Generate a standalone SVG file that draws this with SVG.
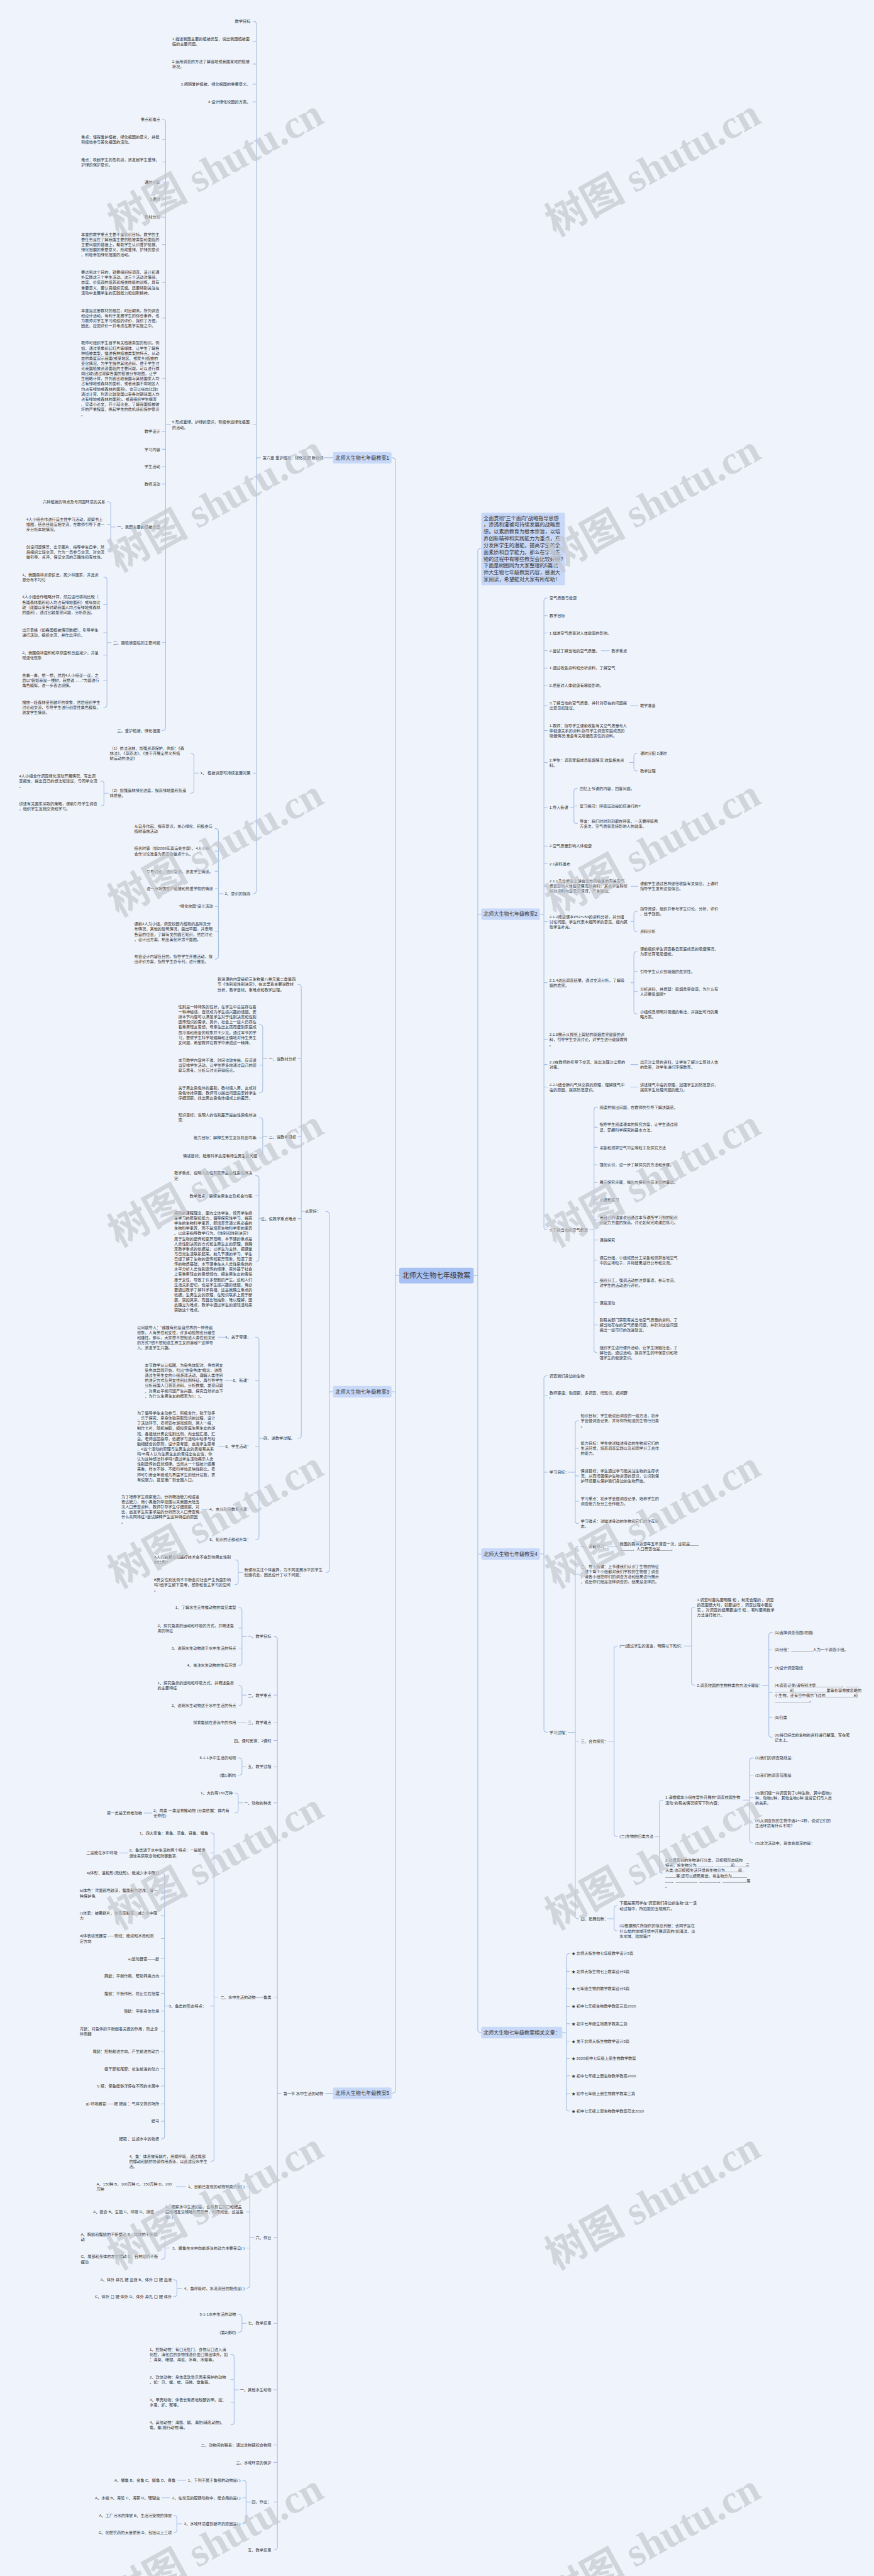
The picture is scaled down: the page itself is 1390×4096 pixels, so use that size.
<svg xmlns="http://www.w3.org/2000/svg" width="1390" height="4096" viewBox="0 0 1390 4096">
<style>
.t{font-family:"Liberation Sans","Noto Sans CJK SC",sans-serif;font-size:11.5px;fill:#333}
.e{text-anchor:end}
.m{text-anchor:middle}
.b{font-size:15px}
.c{font-size:20px}
.ln{fill:none;stroke:#a5bde8;stroke-width:2;stroke-linecap:round}
.bx{fill:#c8d8f8}
.wm{font-family:"Liberation Serif","Noto Sans CJK SC",serif;font-size:118px;font-weight:bold;fill:#c4c8cf;opacity:.7}
</style>
<rect width="1390" height="4096" fill="#eff4fc"/>
<g transform="scale(0.542)">
<g id="connectors" class="ln">
<path d="M1390 3742H1402M1412 1609Q1402 1609 1402 1617V5955Q1402 5963 1412 5963M1402 2682h10M1402 4559h10"/>
<path d="M1584 2682H1596M1606 1754Q1596 1754 1596 1762V3600Q1596 3608 1606 3608M1596 1806h10M1596 1857h10M1596 1909h10M1596 1960h10M1596 2011h10M1596 2070h10M1596 2143h10M1596 2237h10M1596 2369h10M1596 2482h10M1596 2534h10M1596 2600h10M1596 2704h10M1596 2883h10M1596 3049h10M1596 3123h10M1596 3189h10"/>
<path d="M1764 1909H1788M1850 2070H1872M1851 2600H1872M1851 3123H1872M1851 3189H1872"/>
<path d="M1846 2237H1860M1870 2210Q1860 2210 1860 2218V2254Q1860 2262 1870 2262"/>
<path d="M1673 2369H1684M1694 2313Q1684 2313 1684 2321V2408Q1684 2416 1694 2416M1684 2365h10"/>
<path d="M1851 2704H1860M1870 2673Q1860 2673 1860 2681V2725Q1860 2733 1870 2733"/>
<path d="M1851 2883H1860M1870 2792Q1860 2792 1860 2800V2967Q1860 2975 1870 2975M1860 2850h10M1860 2909h10"/>
<path d="M1730 3608H1743M1753 3248Q1743 3248 1743 3256V3961Q1743 3969 1753 3969M1743 3307h10M1743 3366h10M1743 3417h10M1743 3469h10M1743 3520h10M1743 3579h10M1743 3638h10M1743 3697h10M1743 3763h10M1743 3822h10M1743 3887h10"/>
<path d="M1584 4559H1596M1606 4036Q1596 4036 1596 4044V5074Q1596 5082 1606 5082M1596 4094h10M1596 4319h10"/>
<path d="M1667 4319H1688M1698 4168Q1688 4168 1688 4176V4462Q1688 4470 1698 4470M1688 4249h10M1688 4330h10M1688 4404h10"/>
<path d="M1667 5082H1688M1698 4537Q1688 4537 1688 4545V5621Q1688 5629 1698 5629M1688 4618h10M1688 5108h10"/>
<path d="M1782 4537H1812"/>
<path d="M1782 5108H1802M1812 4829Q1802 4829 1802 4837V5380Q1802 5388 1812 5388"/>
<path d="M2008 4829H2029M2039 4715Q2029 4715 2029 4723V4936Q2029 4944 2039 4944"/>
<path d="M2236 4944H2256M2266 4789Q2256 4789 2256 4797V5089Q2256 5097 2266 5097M2256 4840h10M2256 4892h10M2256 4966h10M2256 5039h10"/>
<path d="M1922 5388H1935M1945 5281Q1935 5281 1935 5289V5487Q1935 5495 1945 5495"/>
<path d="M2180 5281H2200M2210 5157Q2200 5157 2200 5165V5399Q2200 5407 2210 5407M2200 5208h10M2200 5274h10M2200 5348h10"/>
<path d="M1782 5629H1802M1812 5591Q1802 5591 1802 5599V5657Q1802 5665 1812 5665"/>
<path d="M1650 5963H1662M1672 5731Q1662 5731 1662 5739V6185Q1662 6193 1672 6193M1662 5783h10M1662 5834h10M1662 5886h10M1662 5937h10M1662 5988h10M1662 6039h10M1662 6090h10M1662 6142h10"/>
<path d="M1171 3742H1160M1150 1343Q1160 1343 1160 1351V6133Q1160 6141 1150 6141M1160 4083h-10"/>
<path d="M977 1343H955M977 6141H955"/>
<path d="M764 1343H752M742 62Q752 62 752 70V2614Q752 2622 742 2622M752 122h-10M752 188h-10M752 247h-10M752 299h-10M752 1246h-10M752 2268h-10"/>
<path d="M501 1246H486M476 350Q486 350 486 358V2135Q486 2143 476 2143M486 409h-10M486 475h-10M486 534h-10M486 585h-10M486 637h-10M486 717h-10M486 829h-10M486 933h-10M486 1111h-10M486 1266h-10M486 1318h-10M486 1369h-10M486 1420h-10M486 1546h-10M486 1885h-10"/>
<path d="M338 1546H325M315 1472Q325 1472 325 1480V1611Q325 1619 315 1619M325 1538h-10"/>
<path d="M327 1885H314M304 1693Q314 1693 314 1701V2068Q314 2076 304 2076M314 1774h-10M314 1856h-10M314 1922h-10M314 1996h-10"/>
<path d="M582 2268H569M559 2210Q569 2210 569 2218V2319Q569 2327 559 2327"/>
<path d="M318 2327H305M295 2291Q305 2291 305 2299V2357Q305 2365 295 2365"/>
<path d="M655 2622H641M631 2431Q641 2431 641 2439V2806Q641 2814 631 2814M641 2497h-10M641 2556h-10M641 2607h-10M641 2659h-10M641 2733h-10"/>
<path d="M977 4083H966M956 3554Q966 3554 966 3562V4605Q966 4613 956 4613"/>
<path d="M899 3554H884M874 2888Q884 2888 884 2896V4212Q884 4220 874 4220M884 3106h-10M884 3335h-10M884 3575h-10"/>
<path d="M784 3106H771M761 3006Q771 3006 771 3014V3198Q771 3206 761 3206M771 3125h-10"/>
<path d="M784 3335H771M761 3279Q771 3279 771 3287V3382Q771 3390 761 3390M771 3338h-10"/>
<path d="M773 3575H760M750 3449Q760 3449 760 3457V3693Q760 3701 750 3701M760 3508h-10"/>
<path d="M773 4220H760M750 3923Q760 3923 760 3931V4509Q760 4517 750 4517M760 4050h-10M760 4243h-10M760 4428h-10"/>
<path d="M664 3923H640M686 4050H661M664 4243H640M617 4428H592"/>
<path d="M713 4613H699M689 4576Q699 4576 699 4584V4641Q699 4649 689 4649"/>
<path d="M825 6141H814M804 4801Q814 4801 814 4809V7473Q814 7481 804 7481M814 4973h-10M814 5054h-10M814 5106h-10M814 5183h-10M814 5289h-10M814 5859h-10M814 6564h-10M814 6816h-10M814 7011h-10M814 7173h-10M814 7224h-10M814 7340h-10"/>
<path d="M723 4801H710M700 4716Q710 4716 710 4724V4878Q710 4886 700 4886M710 4776h-10M710 4835h-10"/>
<path d="M723 4973H710M700 4945Q710 4945 710 4953V4996Q710 5004 700 5004"/>
<path d="M723 5054H699"/>
<path d="M723 5183H710M700 5157Q710 5157 710 5165V5200Q710 5208 700 5208"/>
<path d="M712 5289H699M689 5260Q699 5260 699 5268V5311Q699 5319 689 5319"/>
<path d="M446 5319H423M375 5436H351"/>
<path d="M640 5859H628M618 5377Q628 5377 628 5385V6333Q628 6341 618 6341M628 5436h-10M628 5885h-10"/>
<path d="M496 5885H483M473 5495Q483 5495 483 5503V6267Q483 6275 473 6275M483 5554h-10M483 5620h-10M483 5687h-10M483 5746h-10M483 5797h-10M483 5848h-10M483 5900h-10M483 5959h-10M483 6018h-10M483 6069h-10M483 6120h-10M483 6172h-10M483 6223h-10"/>
<path d="M746 6564H733M723 6415Q733 6415 733 6423V6705Q733 6713 723 6713M733 6489h-10M733 6595h-10"/>
<path d="M545 6415H518M481 6489H458"/>
<path d="M497 6595H484M474 6562Q484 6562 484 6570V6620Q484 6628 474 6628"/>
<path d="M533 6713H519M509 6688Q519 6688 519 6696V6730Q519 6738 509 6738"/>
<path d="M723 6816H710M700 6790Q710 6790 710 6798V6834Q710 6842 700 6842"/>
<path d="M700 7011H687M677 6907Q687 6907 687 6915V7106Q687 7114 677 7114M687 6981h-10M687 7048h-10"/>
<path d="M735 7340H722M712 7276Q722 7276 722 7284V7396Q722 7404 712 7404M722 7328h-10"/>
<path d="M545 7276H521M498 7328H475"/>
<path d="M534 7404H519M509 7379Q519 7379 519 7387V7422Q519 7430 509 7430"/>
</g>

<g id="center"><rect x="1171" y="3719" width="219" height="46" rx="6" fill="#a7c1f4"/><text class="t c m" x="1280.5" y="3749">北师大生物七年级教案</text></g>
<g id="desc"><rect class="bx" x="1412" y="1504" width="246" height="213" rx="5"/><text class="t b" x="1419" y="1525">全面贯彻"三个面向"战略指导思想<tspan x="1419" dy="20">，渗透和灌输可持续发展的战略思</tspan><tspan x="1419" dy="20">想。以素质教育为根本宗旨，以培</tspan><tspan x="1419" dy="20">养创新精神和实践能力为重点，充</tspan><tspan x="1419" dy="20">分发挥学生的潜能，提高学生的全</tspan><tspan x="1419" dy="20">面素质和自学能力。那么在学习生</tspan><tspan x="1419" dy="20">物的过程中有哪些教案会比较好呢?</tspan><tspan x="1419" dy="20">下面是树图网为大家整理的5篇北</tspan><tspan x="1419" dy="20">师大生物七年级教案内容，感谢大</tspan><tspan x="1419" dy="20">家阅读，希望能对大家有所帮助！</tspan></text></g>

<g id="b1"><rect class="bx" x="977" y="1326" width="172" height="34" rx="5"/><text class="t b m" x="1063" y="1348">北师大生物七年级教案1</text></g>
<g id="b3"><rect class="bx" x="977" y="4066" width="172" height="34" rx="5"/><text class="t b m" x="1063" y="4088">北师大生物七年级教案3</text></g>
<g id="b5"><rect class="bx" x="977" y="6124" width="172" height="34" rx="5"/><text class="t b m" x="1063" y="6146">北师大生物七年级教案5</text></g>
<g id="b2"><rect class="bx" x="1412" y="2665" width="172" height="34" rx="5"/><text class="t b m" x="1498" y="2687">北师大生物七年级教案2</text></g>
<g id="b4"><rect class="bx" x="1412" y="4542" width="172" height="34" rx="5"/><text class="t b m" x="1498" y="4564">北师大生物七年级教案4</text></g>
<g id="b6"><rect class="bx" x="1412" y="5946" width="238" height="34" rx="5"/><text class="t b m" x="1531" y="5968">北师大生物七年级教案相关文章：</text></g>

<g id="n1"><text class="t e" x="949" y="1347">第六章 爱护植被，绿化祖国 新授课</text></g>
<g id="n2"><text class="t e" x="735" y="66">教学目标</text></g>
<g id="n3"><text class="t" x="505" y="118.5">1.描述我国主要的植被类型，说出我国植被面<tspan x="505" dy="15">临的主要问题。</tspan></text></g>
<g id="n4"><text class="t" x="505" y="184.5">2.运用调查的方法了解当地或我国某地的植被<tspan x="505" dy="15">状况。</tspan></text></g>
<g id="n5"><text class="t e" x="735" y="251">3.阐明爱护植被、绿化祖国的重要意义。</text></g>
<g id="n6"><text class="t e" x="735" y="303">4.设计绿化校园的方案。</text></g>
<g id="n7"><text class="t" x="505" y="1242.5">5.形成爱绿、护绿的意识，积极参加绿化祖国<tspan x="505" dy="15">的活动。</tspan></text></g>
<g id="n8"><text class="t e" x="735" y="2272">1、 植被资源可持续发展对策</text></g>
<g id="n9"><text class="t e" x="735" y="2626">2、意识的提高</text></g>
<g id="n10"><text class="t e" x="470" y="354">重点和难点</text></g>
<g id="n11"><text class="t" x="238" y="405.5">重点：懂得爱护植被，绿化祖国的意义，并能<tspan x="238" dy="15">积极地参与美化祖国的活动。</tspan></text></g>
<g id="n12"><text class="t" x="238" y="471.5">难点：唤起学生的危机感，激发起学生爱绿、<tspan x="238" dy="15">护绿的保护意识。</tspan></text></g>
<g id="n13"><text class="t e" x="470" y="538">课时分配</text></g>
<g id="n14"><text class="t e" x="470" y="589">2课时</text></g>
<g id="n15"><text class="t e" x="470" y="641">教材分析</text></g>
<g id="n16"><text class="t" x="238" y="691">本章的教学重点主要不是知识目标。教学的主<tspan x="238" dy="15">要任务是在了解我国主要的植被类型和面临的</tspan><tspan x="238" dy="15">主要问题的基础上，帮助学生认识爱护植被、</tspan><tspan x="238" dy="15">绿化祖国的重要意义，形成爱绿、护绿的意识</tspan><tspan x="238" dy="15">，积极参加绿化祖国的活动。</tspan></text></g>
<g id="n17"><text class="t" x="238" y="803">要达到这个目的，就要组织好调查、设计和课<tspan x="238" dy="15">外实践这三个学生活动。这三个活动对情感、</tspan><tspan x="238" dy="15">态度、价值观的培养和相关技能的训练，具有</tspan><tspan x="238" dy="15">重要意义，要认真组织实施。还要特别关注在</tspan><tspan x="238" dy="15">活动中发展学生的实践能力和创新精神。</tspan></text></g>
<g id="n18"><text class="t" x="238" y="914.5">本章是这册教材的最后，时近期末。所列调查<tspan x="238" dy="15">和设计活动，有利于发展学生的综合素养，也</tspan><tspan x="238" dy="15">为教师对学生学习成绩的评价，提供了方便。</tspan><tspan x="238" dy="15">因此，应把评价一并考虑在教学实施之中。</tspan></text></g>
<g id="n19"><text class="t" x="238" y="1010">教师可组织学生自学有关植被类型的知识。例<tspan x="238" dy="15">如，通过录像和幻灯片等媒体，让学生了解各</tspan><tspan x="238" dy="15">种植被类型，描述各种植被类型的特点。从动</tspan><tspan x="238" dy="15">态的角度演示我国(或某地区、或家乡)植被的</tspan><tspan x="238" dy="15">变化情况，为学生提供其他资料，便于学生讨</tspan><tspan x="238" dy="15">论我国植被资源面临的主要问题。可以进行横</tspan><tspan x="238" dy="15">向比较(通过观察各国的植被分布地图，让学</tspan><tspan x="238" dy="15">生粗略计算，并列表比较我国与其他国家人均</tspan><tspan x="238" dy="15">占有绿地或森林的面积，或者我国不同地区人</tspan><tspan x="238" dy="15">均占有绿地或森林的面积)，也可以纵向比较(</tspan><tspan x="238" dy="15">通过计算、列表比较建国以来各时期我国人均</tspan><tspan x="238" dy="15">占有绿地或森林的面积)。或者组织学生撰写</tspan><tspan x="238" dy="15">、宣读小论文，开小辩论会，了解我国植被破</tspan><tspan x="238" dy="15">坏的严重程度，唤起学生的危机感和保护意识</tspan><tspan x="238" dy="15">。</tspan></text></g>
<g id="n20"><text class="t e" x="470" y="1270">教学设计</text></g>
<g id="n21"><text class="t e" x="470" y="1322">学习内容</text></g>
<g id="n22"><text class="t e" x="470" y="1373">学生活动</text></g>
<g id="n23"><text class="t e" x="470" y="1424">教师活动</text></g>
<g id="n24"><text class="t e" x="470" y="1550">一、我国主要的植被类型</text></g>
<g id="n25"><text class="t e" x="470" y="1889">二、国植被面临的主要问题</text></g>
<g id="n26"><text class="t e" x="470" y="2147">三、爱护植被，绿化祖国</text></g>
<g id="n27"><text class="t e" x="309" y="1476">六种植被的特点及与周围环境的关系</text></g>
<g id="n28"><text class="t" x="77" y="1527">4人小组合作进行自主性学习活动，观察书上<tspan x="77" dy="15">插图，结合经验互相交流，在教师引导下进一</tspan><tspan x="77" dy="15">步分析本地情况。</tspan></text></g>
<g id="n29"><text class="t" x="77" y="1608">创设问题情景，出示图片，指导学生自学，然<tspan x="77" dy="15">后组织全班交流，作为一员参与交流，对交流</tspan><tspan x="77" dy="15">做引导、点评，保证交流的正确性和有效性。</tspan></text></g>
<g id="n30"><text class="t" x="65" y="1689.5">1、我国森林资源贫乏，属少林国家，并且资<tspan x="65" dy="15">源分布不均匀</tspan></text></g>
<g id="n31"><text class="t" x="65" y="1755.5">4人小组合作粗略计算，然后进行横向比较（<tspan x="65" dy="15">各国森林面积和人均占有绿地面积）或纵向比</tspan><tspan x="65" dy="15">较（建国以来各时期我国人均占有绿地或森林</tspan><tspan x="65" dy="15">的面积），通过比较发现问题，分析原因。</tspan></text></g>
<g id="n32"><text class="t" x="65" y="1852.5">出示表格（如各国植被情况数据），引导学生<tspan x="65" dy="15">进行活动，组织交流，并作出评价。</tspan></text></g>
<g id="n33"><text class="t" x="65" y="1918.5">2、我国森林面积和草原面积日益减少，并呈<tspan x="65" dy="15">现退化现象</tspan></text></g>
<g id="n34"><text class="t" x="65" y="1985">先看一看，想一想，然后4人小组议一议，之<tspan x="65" dy="15">后以"假如我是一棵树，我想说……"为题进行</tspan><tspan x="65" dy="15">角色模拟，进一步表达感情。</tspan></text></g>
<g id="n35"><text class="t" x="65" y="2065">播放一段森林受到破坏的录象，然后组织学生<tspan x="65" dy="15">讨论和交流，引导学生进行创意性角色模拟，</tspan><tspan x="65" dy="15">激发学生情感。</tspan></text></g>
<g id="n36"><text class="t" x="322" y="2199">（1）依法治林，加强资源保护，例如：《森<tspan x="322" dy="15">林法》、《草原法》、《关于开展全民义务植</tspan><tspan x="322" dy="15">树运动的决议》</tspan></text></g>
<g id="n37"><text class="t" x="322" y="2323.5">（2）加强造林绿化进度，提高绿地面积及造<tspan x="322" dy="15">林质量。</tspan></text></g>
<g id="n38"><text class="t" x="56" y="2280">4人小组合作调查绿化活动开展情况，写出调<tspan x="56" dy="15">查报告，提出自己的想法和建议，与同学交流</tspan><tspan x="56" dy="15">。</tspan></text></g>
<g id="n39"><text class="t" x="56" y="2361.5">讲述有关国家采取的策略，课前引导学生调查<tspan x="56" dy="15">，组织学生互相交流和学习。</tspan></text></g>
<g id="n40"><text class="t" x="394" y="2427.5">从自身作起，提高意识，关心绿化，积极参与<tspan x="394" dy="15">植树造林活动</tspan></text></g>
<g id="n41"><text class="t" x="394" y="2493.5">结合时事（如2008年奥运会主题），4人小组<tspan x="394" dy="15">合作讨论准备为奥运会做点什么。</tspan></text></g>
<g id="n42"><text class="t e" x="625" y="2560">引导讨论，组织交流，激发学生情感。</text></g>
<g id="n43"><text class="t e" x="625" y="2611">进一步增强爱护植被和热爱学校的情感</text></g>
<g id="n44"><text class="t e" x="625" y="2663">"绿化校园"设计活动</text></g>
<g id="n45"><text class="t" x="394" y="2714.5">课前4人为小组，调查校园内植物的品种及分<tspan x="394" dy="15">布情况，其他的建筑情况，画出草图，并表明</tspan><tspan x="394" dy="15">各自的位置，了解有关的园艺知识，然后讨论</tspan><tspan x="394" dy="15">，设计出方案，制出美化环境平面图。</tspan></text></g>
<g id="n46"><text class="t" x="394" y="2810.5">布置设计内容及目的。指导学生开展活动，提<tspan x="394" dy="15">出评价方案，指导学生办专刊，进行展览。</tspan></text></g>

<g id="n47"><text class="t e" x="941" y="3558">大家好：</text></g>
<g id="n48"><text class="t" x="717" y="4609.5">新课标关注个体差异，为不同发展水平的学生<tspan x="717" dy="15">创造机会，因此设计了以下问题：</tspan></text></g>
<g id="n49"><text class="t" x="638" y="2877">我说课的内容是初三生物第八单元第二章第四<tspan x="638" dy="15">节《性别和性别决定》，在这里我主要说教材</tspan><tspan x="638" dy="15">分析、教学目标、重难点和教学过程。</tspan></text></g>
<g id="n50"><text class="t e" x="869" y="3110">一、说教材分析</text></g>
<g id="n51"><text class="t e" x="869" y="3339">二、说教学目标</text></g>
<g id="n52"><text class="t e" x="869" y="3579">三、说教学重点难点</text></g>
<g id="n53"><text class="t e" x="865" y="4224">四、说教学过程。</text></g>
<g id="n54"><text class="t" x="523" y="2957.5">性别是一种特殊的性状，在学生中总是存在着<tspan x="523" dy="15">一种神秘感，自然成为学生感兴趣的话题。安</tspan><tspan x="523" dy="15">排本节内容可以满足学生对于性别决定和性别</tspan><tspan x="523" dy="15">遗传知识的需求。另外，社会上一些人仍存在</tspan><tspan x="523" dy="15">着重男轻女思想，母亲生出女孩而遭到家庭成</tspan><tspan x="523" dy="15">员冷落和责备的现象并不少见。通过本节的学</tspan><tspan x="523" dy="15">习，要使学生科学地理解和正确地对待生男生</tspan><tspan x="523" dy="15">女问题，希望教师在教学中渗透这一精神。</tspan></text></g>
<g id="n55"><text class="t" x="523" y="3114">本节教学内容并不难，时间也较充裕，应该适<tspan x="523" dy="15">当安排学生活动，让学生更多地通过自己的观</tspan><tspan x="523" dy="15">察与思考，分析与讨论获得结论。</tspan></text></g>
<g id="n56"><text class="t" x="523" y="3195">关于男女染色体的差别，教材编入男、女成对<tspan x="523" dy="15">染色体排序图。教师可以提出问题后安排学生</tspan><tspan x="523" dy="15">仔细观察，找出男女染色体组成上的差异。</tspan></text></g>
<g id="n57"><text class="t" x="523" y="3275.5">知识目标：说明人的性别差异是由性染色体决<tspan x="523" dy="15">定;</tspan></text></g>
<g id="n58"><text class="t e" x="755" y="3342">能力目标：解释生男生女及机会均等;</text></g>
<g id="n59"><text class="t e" x="755" y="3394">情感目标：能用科学态度看待生男生女问题</text></g>
<g id="n60"><text class="t" x="511" y="3445.5">教学重点：说明人的性别差异是由性染色体决<tspan x="511" dy="15">定;</tspan></text></g>
<g id="n61"><text class="t e" x="743" y="3512">教学难点：解释生男生女及机会均等;</text></g>
<g id="n62"><text class="t" x="511" y="3562.5">用新的课程理念，面向全体学生，培养学生终<tspan x="511" dy="15">生学习的愿望和能力，倡导探究性学习，提高</tspan><tspan x="511" dy="15">学生的生物科学素养，即培养普通公民必备的</tspan><tspan x="511" dy="15">生物科学素养，而不是培养生物科学家的素养</tspan><tspan x="511" dy="15">。以此来指导教学行为。《性别和性别决定》</tspan><tspan x="511" dy="15">属于生物的遗传和变异范畴，本节课的重点是</tspan><tspan x="511" dy="15">人类性别决定的方式和生男生女的原理。我确</tspan><tspan x="511" dy="15">定教学重点的依据是：以学生为主体，把课堂</tspan><tspan x="511" dy="15">与日常生活联系起来。前几节课的学习，学生</tspan><tspan x="511" dy="15">已经了解了生物的遗传和变异现象，知道了遗</tspan><tspan x="511" dy="15">传的物质基础，本节课重在从人类性染色体的</tspan><tspan x="511" dy="15">水平分析人类性别遗传的规律，另外基于社会</tspan><tspan x="511" dy="15">上有重男轻女的思想倾向，把生男生女的责任</tspan><tspan x="511" dy="15">推于女性，导致了许多悲剧的产生。这和人们</tspan><tspan x="511" dy="15">生活关系密切，也是学生感兴趣的话题，有必</tspan><tspan x="511" dy="15">要通过教学了解科学真相，这是我确立重点的</tspan><tspan x="511" dy="15">依据。生男生女的原理，在知识联系上属于断</tspan><tspan x="511" dy="15">层，突如其来，而且比较抽象，难以理解，因</tspan><tspan x="511" dy="15">此确立为难点，教学中通过学生的游戏活动来</tspan><tspan x="511" dy="15">突破这个难点。</tspan></text></g>
<g id="n63"><text class="t e" x="736" y="3927">1、关于导课：</text></g>
<g id="n64"><text class="t" x="402" y="3898">以问题导入："雌雄有别是自然界的一种普遍<tspan x="402" dy="15">现象，人有男性和女性，许多动植物也分雌性</tspan><tspan x="402" dy="15">和雄性。那么，大家想不想知道人类性别决定</tspan><tspan x="402" dy="15">的方式?想不想知道生男生女的奥秘?"这样导</tspan><tspan x="402" dy="15">入，激发学生兴趣。</tspan></text></g>
<g id="n65"><text class="t e" x="736" y="4054">2、新课：</text></g>
<g id="n66"><text class="t" x="425" y="4009">本节教学从认挂图、为染色体配对、寻找男女<tspan x="425" dy="15">染色体异同开始，引出"性染色体"概念，进而</tspan><tspan x="425" dy="15">通过生男生女的小组游戏活动，理解人类性别</tspan><tspan x="425" dy="15">的决定方式及男女性别比例特征。再引导学生</tspan><tspan x="425" dy="15">分析我国人口普查资料，分析数据，发现问题</tspan><tspan x="425" dy="15">，对男女平衡问题产生兴趣，探究自然状态下</tspan><tspan x="425" dy="15">，为什么生男生女的概率为1：1。</tspan></text></g>
<g id="n67"><text class="t e" x="736" y="4247">3、学生活动：</text></g>
<g id="n68"><text class="t" x="402" y="4149.5">为了倡导学生主动参与，积极合作，勤于动手<tspan x="402" dy="15">，乐于探究，亲身体验获取知识的过程，设计</tspan><tspan x="402" dy="15">了活动环节，老师宣布游戏规则，两人一组，</tspan><tspan x="402" dy="15">制作卡片，随机抽取，模拟家庭生男生女的游</tspan><tspan x="402" dy="15">戏，各组统计男女性别比例，向全班汇报、汇</tspan><tspan x="402" dy="15">总。老师巡回指导，依据学习活动中动手与动</tspan><tspan x="402" dy="15">脑相结合的原则，设计思考题，启发学生思考</tspan><tspan x="402" dy="15">：A这个活动的原理与生男生女的奥秘有关系</tspan><tspan x="402" dy="15">吗?B有人认为生男生女的责任全在女性，你</tspan><tspan x="402" dy="15">认为这种想法科学吗?通过学生活动揭示人类</tspan><tspan x="402" dy="15">性别遗传的自然规律。当然从一个班统计结果</tspan><tspan x="402" dy="15">来看，样本不够，不能科学地反映性别比。老</tspan><tspan x="402" dy="15">师可引用全年级或几界届学生的统计总数，更</tspan><tspan x="402" dy="15">有说服力。甚至推广到全国人口。</tspan></text></g>
<g id="n69"><text class="t e" x="736" y="4432">4、充分利用教育资源：</text></g>
<g id="n70"><text class="t" x="356" y="4394.5">为了培养学生观察能力、分析概括能力和语言<tspan x="356" dy="15">表达能力，用小黑板列举建国以来我国大陆五</tspan><tspan x="356" dy="15">次人口普查资料，教师引导学生仔细观察、对</tspan><tspan x="356" dy="15">比，启发学生实事求是的分析历次人口普查有</tspan><tspan x="356" dy="15">什么共同特征?尝试解释产生这种特征的原因</tspan><tspan x="356" dy="15">。</tspan></text></g>
<g id="n71"><text class="t e" x="736" y="4521">5、知识的迁移和升华：</text></g>
<g id="n72"><text class="t" x="452" y="4572.5">A人们的观念和医疗技术会不会影响男女性别<tspan x="452" dy="15">的比例?</tspan></text></g>
<g id="n73"><text class="t" x="452" y="4638">B男女性别比例不平衡会对社会产生负面影响<tspan x="452" dy="15">吗?给学生留下思考、想象和自主学习的空间</tspan><tspan x="452" dy="15">。</tspan></text></g>

<g id="n74"><text class="t e" x="949" y="6145">第一节 水中生活的动物</text></g>
<g id="n75"><text class="t e" x="796" y="4805">一、教学目标</text></g>
<g id="n76"><text class="t e" x="693" y="4720">1、了解水生无脊椎动物的常见类型</text></g>
<g id="n77"><text class="t" x="462" y="4772.5">2、探究鱼类的运动和呼吸的方式，并概述鱼<tspan x="462" dy="15">类的特征</tspan></text></g>
<g id="n78"><text class="t e" x="693" y="4839">3、说明水生动物适于水中生活的特点</text></g>
<g id="n79"><text class="t e" x="693" y="4890">4、关注水生动物的生存环境</text></g>
<g id="n80"><text class="t e" x="796" y="4977">二、教学重点</text></g>
<g id="n81"><text class="t" x="462" y="4941.5">1、探究鱼类的运动和呼吸方式，并概述鱼类<tspan x="462" dy="15">的主要特征</tspan></text></g>
<g id="n82"><text class="t e" x="693" y="5008">2、说明水生动物适于水中生活的特点</text></g>
<g id="n83"><text class="t e" x="796" y="5058">三、教学难点</text></g>
<g id="n84"><text class="t e" x="693" y="5058">探索鱼鳍在游泳中的作用</text></g>
<g id="n85"><text class="t e" x="796" y="5110">四、课时安排：2课时</text></g>
<g id="n86"><text class="t e" x="796" y="5187">五、教学过程</text></g>
<g id="n87"><text class="t e" x="693" y="5161">5-1-1水中生活的动物</text></g>
<g id="n88"><text class="t e" x="693" y="5212">(第1课时)</text></g>
<g id="n89"><text class="t e" x="796" y="5293">一、动物的种类</text></g>
<g id="n90"><text class="t e" x="683" y="5264">1、大约有150万种</text></g>
<g id="n91"><text class="t" x="450" y="5315.5">2、两类 一类是脊椎动物 (分类依据：体内有<tspan x="450" dy="15">无脊柱)</tspan></text></g>
<g id="n92"><text class="t e" x="417" y="5323">另一类是无脊椎动物</text></g>
<g id="n93"><text class="t e" x="796" y="5863">二、水中生活的动物——鱼类</text></g>
<g id="n94"><text class="t e" x="611" y="5381">1、四大家鱼：青鱼、草鱼、链鱼、鳙鱼</text></g>
<g id="n95"><text class="t" x="379" y="5432.5">2、鱼类适于水中生活的两个特点：一是能靠<tspan x="379" dy="15">游泳来获取食物和防御敌害,</tspan></text></g>
<g id="n96"><text class="t e" x="345" y="5440">二是能在水中呼吸</text></g>
<g id="n97"><text class="t e" x="605" y="5889">3、鱼类的形态特点：</text></g>
<g id="n98"><text class="t" x="379" y="6330">4、鱼：体表被有鳞片，用鳃呼吸，通过尾部<tspan x="379" dy="15">的摆动和鳍的协调作用游泳，以此适应水中生</tspan><tspan x="379" dy="15">活。</tspan></text></g>
<g id="n99"><text class="t e" x="467" y="5499">a)体形：呈梭形(流线形)，能减少水中阻力</text></g>
<g id="n100"><text class="t" x="234" y="5550.5">b)体色：背面颜色较深，腹面颜色较浅，是一<tspan x="234" dy="15">种保护色</tspan></text></g>
<g id="n101"><text class="t" x="234" y="5616.5">c)体表：被覆鳞片，体表有黏液，减少水中阻<tspan x="234" dy="15">力</tspan></text></g>
<g id="n102"><text class="t" x="234" y="5683.5">d)体表感觉器官——侧线：能感知水流和测<tspan x="234" dy="15">定方向</tspan></text></g>
<g id="n103"><text class="t e" x="467" y="5750">e)运动器官——鳍</text></g>
<g id="n104"><text class="t e" x="467" y="5801">胸鳍：平衡作用，帮助转换方向</text></g>
<g id="n105"><text class="t e" x="467" y="5852">腹鳍：平衡作用，防止左右摇摆</text></g>
<g id="n106"><text class="t e" x="467" y="5904">臀鳍：平衡身体作用</text></g>
<g id="n107"><text class="t" x="234" y="5955.5">背鳍：对鱼体的平衡起着关键的作用，防止身<tspan x="234" dy="15">体侧翻</tspan></text></g>
<g id="n108"><text class="t e" x="467" y="6022">尾鳍：控制前进方向，产生前进的动力</text></g>
<g id="n109"><text class="t e" x="467" y="6073">躯干部和尾部：妆生前进的动力</text></g>
<g id="n110"><text class="t e" x="467" y="6124">f) 鳔：使鱼能够浮停在不同的水层中</text></g>
<g id="n111"><text class="t e" x="467" y="6176">g) 呼吸器官——鳃 鳃丝 ：气体交换的场所</text></g>
<g id="n112"><text class="t e" x="467" y="6227">鳃弓</text></g>
<g id="n113"><text class="t e" x="467" y="6279">鳃耙 ：过滤水中的物质</text></g>
<g id="n114"><text class="t e" x="796" y="6568">六、作业</text></g>
<g id="n115"><text class="t e" x="718" y="6419">1、目前已发现的动物种类约有( )</text></g>
<g id="n116"><text class="t" x="283" y="6411.5">A、150种 B、100万种 C、150万种 D、200<tspan x="283" dy="15">万种</tspan></text></g>
<g id="n117"><text class="t" x="485" y="6478">2、观察水中生活的鱼，会看到它的口和鳃盖<tspan x="485" dy="15">后缘相互交错地时而张开，时而闭合，这是鱼</tspan><tspan x="485" dy="15">在( )</tspan></text></g>
<g id="n118"><text class="t e" x="452" y="6493">A、摄食 B、生殖 C、呼吸 D、排泄</text></g>
<g id="n119"><text class="t e" x="718" y="6599">3、鲫鱼在水中向前游泳的动力主要来自( )</text></g>
<g id="n120"><text class="t" x="237" y="6558.5">A、胸鳍和腹鳍的不断摆动 B、尾鳍的不断摆<tspan x="237" dy="15">动</tspan></text></g>
<g id="n121"><text class="t" x="237" y="6624.5">C、尾部和身体的左右摆动 D、各种鳍的不断<tspan x="237" dy="15">摆动</tspan></text></g>
<g id="n122"><text class="t e" x="718" y="6717">4、鱼呼吸时，水流流经的路线是( )</text></g>
<g id="n123"><text class="t e" x="504" y="6692">A、体外 鼻孔 鳃 血液 B、体外 口 鳃 血液</text></g>
<g id="n124"><text class="t e" x="504" y="6742">C、体外 口 鳃 体外 D、体外 鼻孔 口 鳃 体外</text></g>
<g id="n125"><text class="t e" x="796" y="6820">七、教学反思</text></g>
<g id="n126"><text class="t e" x="693" y="6794">5-1-1水中生活的动物</text></g>
<g id="n127"><text class="t e" x="693" y="6846">(第2课时)</text></g>
<g id="n128"><text class="t e" x="796" y="7015">一、其他水生动物</text></g>
<g id="n129"><text class="t" x="439" y="6896">1、腔肠动物：有口无肛门，食物从口进入消<tspan x="439" dy="15">化腔，消化后的食物残渣仍由口排出体外。如</tspan><tspan x="439" dy="15">：海葵、珊瑚、海蜇、水母、水螅等。</tspan></text></g>
<g id="n130"><text class="t" x="439" y="6977.5">2、软体动物：身体柔软靠贝壳来保护的动物<tspan x="439" dy="15">。如：贝、螺、蚌、乌贼、章鱼等。</tspan></text></g>
<g id="n131"><text class="t" x="439" y="7044.5">3、甲壳动物：体表长有质地较硬的甲。如：<tspan x="439" dy="15">水蚤、虾、蟹等。</tspan></text></g>
<g id="n132"><text class="t" x="439" y="7110.5">4、其他动物：海豚、鲸、海豹(哺乳动物)、<tspan x="439" dy="15">龟、鳖(爬行动物)等。</tspan></text></g>
<g id="n133"><text class="t e" x="796" y="7177">二、动物间的联系：通过食物链和食物网</text></g>
<g id="n134"><text class="t e" x="796" y="7228">三、水域环境的保护</text></g>
<g id="n135"><text class="t e" x="796" y="7344">四、作业：</text></g>
<g id="n136"><text class="t e" x="706" y="7280">1、下列不属于鱼纲的动物是( )</text></g>
<g id="n137"><text class="t e" x="515" y="7280">A、鲫鱼 B、金鱼 C、鲸鱼 D、青鱼</text></g>
<g id="n138"><text class="t e" x="706" y="7332">2、在常见的腔肠动物中，能食用的是( )</text></g>
<g id="n139"><text class="t e" x="469" y="7332">A、水螅 B、海蜇 C、海葵 D、珊瑚虫</text></g>
<g id="n140"><text class="t e" x="706" y="7408">3、水域环境遭到破坏的原因是( )</text></g>
<g id="n141"><text class="t e" x="504" y="7383">A、工厂污水的排放 B、生活污染物的排放</text></g>
<g id="n142"><text class="t e" x="504" y="7434">C、化肥农药的大量使用 D、包括以上三项</text></g>
<g id="n143"><text class="t e" x="796" y="7485">五、教学反思</text></g>

<g id="r1"><text class="t" x="1612" y="1758">空气质量与健康</text></g>
<g id="r2"><text class="t" x="1612" y="1810">教学目标</text></g>
<g id="r3"><text class="t" x="1612" y="1861">1.描述空气质量对人体健康的影响。</text></g>
<g id="r4"><text class="t" x="1612" y="1913">2.尝试了解当地的空气质量。</text></g>
<g id="r5"><text class="t" x="1794" y="1913">教学重点</text></g>
<g id="r6"><text class="t" x="1612" y="1964">1.通过收集资料和分析资料，了解空气</text></g>
<g id="r7"><text class="t" x="1612" y="2015">2.质量对人体健康有哪些影响。</text></g>
<g id="r8"><text class="t" x="1612" y="2066.5">3.了解当地的空气质量，并针对存在的问题提<tspan x="1612" dy="15">出意见和建议。</tspan></text></g>
<g id="r9"><text class="t" x="1878" y="2074">教学准备</text></g>
<g id="r10"><text class="t" x="1612" y="2132">1.教师：指导学生课前收集有关空气质量与人<tspan x="1612" dy="15">体健康关系的资料;指导学生调查家庭成员的</tspan><tspan x="1612" dy="15">吸烟情况;准备有关吸烟危害性的资料。</tspan></text></g>
<g id="r11"><text class="t" x="1612" y="2233.5">2.学生：调查家庭成员吸烟情况;收集相关资<tspan x="1612" dy="15">料。</tspan></text></g>
<g id="r12"><text class="t" x="1878" y="2214">课时分配 2课时</text></g>
<g id="r13"><text class="t" x="1878" y="2266">教学过程</text></g>
<g id="r14"><text class="t" x="1612" y="2373">1.导入新课</text></g>
<g id="r15"><text class="t" x="1701" y="2317">回忆上节课的内容，回答问题。</text></g>
<g id="r16"><text class="t" x="1701" y="2369">复习提问：呼吸运动是如何进行的?</text></g>
<g id="r17"><text class="t" x="1701" y="2412.5">导言：我们时时刻刻都在呼吸，一天要呼吸两<tspan x="1701" dy="15">万多次，空气质量直接影响人的健康。</tspan></text></g>
<g id="r18"><text class="t" x="1612" y="2486">2.空气质量影响人体健康</text></g>
<g id="r19"><text class="t" x="1612" y="2538">2.1资料发布</text></g>
<g id="r20"><text class="t" x="1612" y="2589">2.1.1几位学生上讲台发布所收集的有关空气<tspan x="1612" dy="15">质量影响人体健康情况的资料，其余学生聆听</tspan><tspan x="1612" dy="15">并对资料内容表示惊讶，产生触动。</tspan></text></g>
<g id="r21"><text class="t" x="1878" y="2596.5">课前学生通过各种途径收集有关信息，上课时<tspan x="1878" dy="15">指导学生发布这些信息。</tspan></text></g>
<g id="r22"><text class="t" x="1612" y="2693">2.1.2阅读课本P52～53的资料分析，并分组<tspan x="1612" dy="15">讨论问题。学生代表本组同学的意见，组内其</tspan><tspan x="1612" dy="15">他学生补充。</tspan></text></g>
<g id="r23"><text class="t" x="1878" y="2669.5">指导阅读，组织并参与学生讨论，分析、评价<tspan x="1878" dy="15">，给予鼓励。</tspan></text></g>
<g id="r24"><text class="t" x="1878" y="2737">资料分析</text></g>
<g id="r25"><text class="t" x="1612" y="2879.5">2.1.4说出调查结果。通过交流分析，了解吸<tspan x="1612" dy="15">烟的危害。</tspan></text></g>
<g id="r26"><text class="t" x="1878" y="2788.5">课前组织学生调查各自家庭成员的吸烟情况，<tspan x="1878" dy="15">为家长算笔吸烟帐。</tspan></text></g>
<g id="r27"><text class="t" x="1878" y="2854">引导学生认识到吸烟的危害性。</text></g>
<g id="r28"><text class="t" x="1878" y="2905.5">分析资料，并质疑：吸烟危害健康，为什么有<tspan x="1878" dy="15">人还要吸烟呢?</tspan></text></g>
<g id="r29"><text class="t" x="1878" y="2971.5">小组成员阐明对吸烟的看法，并提出可行的策<tspan x="1878" dy="15">略方案。</tspan></text></g>
<g id="r30"><text class="t" x="1612" y="3038">2.1.5展示从报纸上剪贴的吸烟危害健康的资<tspan x="1612" dy="15">料，引导学生交流讨论，对学生进行健康教育</tspan><tspan x="1612" dy="15">。</tspan></text></g>
<g id="r31"><text class="t" x="1612" y="3119.5">2.2在教师的引导下交流，说出治理沙尘暴的<tspan x="1612" dy="15">对策。</tspan></text></g>
<g id="r32"><text class="t" x="1878" y="3119.5">出示沙尘暴的资料，让学生了解沙尘暴对人体<tspan x="1878" dy="15">的危害，对学生进行环保教育。</tspan></text></g>
<g id="r33"><text class="t" x="1612" y="3185.5">2.2.1结合肺内气体交换的原理，理解煤气中<tspan x="1612" dy="15">毒的原因，提高防范意识。</tspan></text></g>
<g id="r34"><text class="t" x="1878" y="3185.5">讲述煤气中毒的原理，加强学生的防范意识，<tspan x="1878" dy="15">提高学生处理问题的能力。</tspan></text></g>
<g id="r35"><text class="t" x="1612" y="3612">3.了解当地的空气质量</text></g>
<g id="r36"><text class="t" x="1759" y="3252">阅读并提出问题，在教师的引导下解决疑惑。</text></g>
<g id="r37"><text class="t" x="1759" y="3303.5">指导学生阅读课本的探究方案，让学生通过阅<tspan x="1759" dy="15">读，掌握科学探究的基本方法。</tspan></text></g>
<g id="r38"><text class="t" x="1759" y="3370">采集和测算空气中尘埃粒子及探究方法</text></g>
<g id="r39"><text class="t" x="1759" y="3421">强化认识，进一步了解探究的方法和步骤。</text></g>
<g id="r40"><text class="t" x="1759" y="3473">展示探究步骤，提出在探究中应注意的事项。</text></g>
<g id="r41"><text class="t" x="1759" y="3524">小结和练习</text></g>
<g id="r42"><text class="t" x="1759" y="3575.5">用自己的语言说出通过本节课所学习到的知识<tspan x="1759" dy="15">和能力方面的提高。讨论如何完成课后练习。</tspan></text></g>
<g id="r43"><text class="t" x="1759" y="3642">课后探究</text></g>
<g id="r44"><text class="t" x="1759" y="3693.5">课后分组，小组成员分工采集和测算当地空气<tspan x="1759" dy="15">中的尘埃粒子，并将结果进行公布和交流。</tspan></text></g>
<g id="r45"><text class="t" x="1759" y="3759.5">组织分工，强调活动的注意事项，参与交流，<tspan x="1759" dy="15">对学生的活动进行评价。</tspan></text></g>
<g id="r46"><text class="t" x="1759" y="3826">课后活动</text></g>
<g id="r47"><text class="t" x="1759" y="3876">到有关部门获取有关当地空气质量的资料，了<tspan x="1759" dy="15">解当地存在的空气质量问题，并针对这些问题</tspan><tspan x="1759" dy="15">提出一些可行的改进建议。</tspan></text></g>
<g id="r48"><text class="t" x="1759" y="3958">组织学生进行课外活动，让学生接触社会，了<tspan x="1759" dy="15">解社会。通过活动，提高学生的环保意识和增</tspan><tspan x="1759" dy="15">强学生的健康意识。</tspan></text></g>

<g id="r49"><text class="t" x="1612" y="4040">调查我们身边的生物</text></g>
<g id="r50"><text class="t" x="1612" y="4090.5">教师寄语：勤观察，多调查，增知识，拓视野<tspan x="1612" dy="15">!</tspan></text></g>
<g id="r51"><text class="t" x="1612" y="4323">学习目标：</text></g>
<g id="r52"><text class="t" x="1704" y="4157">知识目标：学生能说出调查的一般方法，初步<tspan x="1704" dy="15">学会做调查记录，并将你所知道的生物行归类</tspan><tspan x="1704" dy="15">。</tspan></text></g>
<g id="r53"><text class="t" x="1704" y="4238">能力目标：学生尝试描述身边的生物和它们的<tspan x="1704" dy="15">生活环境，培养调查实践以及和同学分工合作</tspan><tspan x="1704" dy="15">的能力。</tspan></text></g>
<g id="r54"><text class="t" x="1704" y="4319">情感目标：学生通过学习能关注生物的生存状<tspan x="1704" dy="15">况，从而增强保护生物资源的意识，认识到保</tspan><tspan x="1704" dy="15">护环境要从保护我们身边的生物开始。</tspan></text></g>
<g id="r55"><text class="t" x="1704" y="4400.5">学习重点：初步学会做调查记录，培养学生的<tspan x="1704" dy="15">调查能力及分工合作能力。</tspan></text></g>
<g id="r56"><text class="t" x="1704" y="4466.5">学习难点：试描述身边的生物和它们的生存状<tspan x="1704" dy="15">态。</tspan></text></g>
<g id="r57"><text class="t" x="1612" y="5086">学习过程：</text></g>
<g id="r58"><text class="t" x="1704" y="4541">一、课前预习：</text></g>
<g id="r59"><text class="t" x="1818" y="4533.5">我国的森林资源每五年清查一次，这就是____<tspan x="1818" dy="15">______，人口普查也是_____。</tspan></text></g>
<g id="r60"><text class="t" x="1704" y="4599.5">二、导入新课：上节课我们认识了生物的特征<tspan x="1704" dy="15">，课下每个小组都对我们学校的生物做了调查</tspan><tspan x="1704" dy="15">，请各小组把你们的调查方法和结果进行展示</tspan><tspan x="1704" dy="15">，说出你们组是怎样调查的，结果是怎样的。</tspan></text></g>
<g id="r61"><text class="t" x="1704" y="5112">三、合作探究：</text></g>
<g id="r62"><text class="t" x="1818" y="4833">(一)通过学生的发言，明确以下知识：</text></g>
<g id="r63"><text class="t" x="2045" y="4696.5">1.调查时首先要明确 和 ，制定合理的 。调查<tspan x="2045" dy="15">的范围很大时，就要进行 ，调查过程中要如</tspan><tspan x="2045" dy="15">实 。对调查的结果要进行 和 ，有时要用数学</tspan><tspan x="2045" dy="15">方法进行统计。</tspan></text></g>
<g id="r64"><text class="t" x="2045" y="4948">2.调查校园的生物种类的方法步骤是：</text></g>
<g id="r65"><text class="t" x="2273" y="4793">(1)选择调查范围(校园)</text></g>
<g id="r66"><text class="t" x="2273" y="4844">(2)分组：__________人为一个调查小组。</text></g>
<g id="r67"><text class="t" x="2273" y="4896">(3)设计调查路线</text></g>
<g id="r68"><text class="t" x="2273" y="4947.5">(4)调查记录(请特别注意____________、______<tspan x="2273" dy="15">_______和_______________里等处容易被忽略的</tspan><tspan x="2273" dy="15">小生物，还有空中偶尔飞过的_____________和</tspan><tspan x="2273" dy="15">________________。</tspan></text></g>
<g id="r69"><text class="t" x="2273" y="5043">(5)归类</text></g>
<g id="r70"><text class="t" x="2273" y="5093.5">(6)将归好类的生物的资料进行整理，写在笔<tspan x="2273" dy="15">记本上。</tspan></text></g>
<g id="r71"><text class="t" x="1818" y="5392">(二)生物的归类方法</text></g>
<g id="r72"><text class="t" x="1952" y="5277.5">1.请根据本小组在室外开展的"调查校园生物<tspan x="1952" dy="15">活动"的有关情况填写下列内容：</tspan></text></g>
<g id="r73"><text class="t" x="2216" y="5161">(1)我们的调查路线是;</text></g>
<g id="r74"><text class="t" x="2216" y="5212">(2)我们的调查范围是;</text></g>
<g id="r75"><text class="t" x="2216" y="5263">(3)我们组一共调查到了()种生物，其中植物()<tspan x="2216" dy="15">种，动物()种，其他生物()种;说说它们与人类</tspan><tspan x="2216" dy="15">的关系。</tspan></text></g>
<g id="r76"><text class="t" x="2216" y="5344.5">(4)从调查到的生物中选1～2种，说说它们的<tspan x="2216" dy="15">生活环境有什么不同?</tspan></text></g>
<g id="r77"><text class="t" x="2216" y="5411">(5)这次活动中，我体会最深的是：</text></g>
<g id="r78"><text class="t" x="1952" y="5461.5">2.对调查到的生物进行分类，可按照形态结构<tspan x="1952" dy="15">特点，将生物分为_______、_______和_____三</tspan><tspan x="1952" dy="15">大类;也可按照生活环境将生物分为______和_</tspan><tspan x="1952" dy="15">_____等;还可以按照用途，将生物分为_______</tspan><tspan x="1952" dy="15">___、_________、_________、___________等</tspan><tspan x="1952" dy="15">。</tspan></text></g>
<g id="r79"><text class="t" x="1704" y="5633">四、拓展创新：</text></g>
<g id="r80"><text class="t" x="1818" y="5587.5">下图是某同学在"调查我们身边的生物"这一活<tspan x="1818" dy="15">动过程中，所拍摄的五幅照片。</tspan></text></g>
<g id="r81"><text class="t" x="1818" y="5654">(1)根据照片所提供的信息判断：该同学是在<tspan x="1818" dy="15">什么样的地域环境中开展调查的(如海洋、淡</tspan><tspan x="1818" dy="15">水水域、陆地等)?</tspan></text></g>

<g id="r82"><text class="t" x="1677" y="5735">★ 北师大版生物七年级教学设计5篇</text></g>
<g id="r83"><text class="t" x="1677" y="5787">★ 北师大版生物七上教案设计5篇</text></g>
<g id="r84"><text class="t" x="1677" y="5838">★ 七年级生物的教学教案设计5篇</text></g>
<g id="r85"><text class="t" x="1677" y="5890">★ 初中七年级生物教学教案三篇2020</text></g>
<g id="r86"><text class="t" x="1677" y="5941">★ 初中七年级生物教学教案三篇</text></g>
<g id="r87"><text class="t" x="1677" y="5992">★ 关于北师大版生物教学设计5篇</text></g>
<g id="r88"><text class="t" x="1677" y="6043">★ 2020初中七年级上册生物教学教案</text></g>
<g id="r89"><text class="t" x="1677" y="6094">★ 初中七年级上册生物教学教案2020</text></g>
<g id="r90"><text class="t" x="1677" y="6146">★ 初中七年级上册生物教学教案三篇</text></g>
<g id="r91"><text class="t" x="1677" y="6197">★ 初中七年级上册生物教学教案范文2020</text></g>

<g id="watermark">
<text class="wm" transform="translate(348 695) rotate(-29)">树图 shutu.cn</text>
<text class="wm" transform="translate(348 1680) rotate(-29)">树图 shutu.cn</text>
<text class="wm" transform="translate(348 2691) rotate(-29)">树图 shutu.cn</text>
<text class="wm" transform="translate(348 3660) rotate(-29)">树图 shutu.cn</text>
<text class="wm" transform="translate(348 4661) rotate(-29)">树图 shutu.cn</text>
<text class="wm" transform="translate(348 5663) rotate(-29)">树图 shutu.cn</text>
<text class="wm" transform="translate(348 6660) rotate(-29)">树图 shutu.cn</text>
<text class="wm" transform="translate(348 7662) rotate(-29)">树图 shutu.cn</text>
<text class="wm" transform="translate(1631 695) rotate(-29)">树图 shutu.cn</text>
<text class="wm" transform="translate(1631 1680) rotate(-29)">树图 shutu.cn</text>
<text class="wm" transform="translate(1631 2691) rotate(-29)">树图 shutu.cn</text>
<text class="wm" transform="translate(1631 3660) rotate(-29)">树图 shutu.cn</text>
<text class="wm" transform="translate(1631 4661) rotate(-29)">树图 shutu.cn</text>
<text class="wm" transform="translate(1631 5663) rotate(-29)">树图 shutu.cn</text>
<text class="wm" transform="translate(1631 6660) rotate(-29)">树图 shutu.cn</text>
<text class="wm" transform="translate(1631 7662) rotate(-29)">树图 shutu.cn</text>
</g>
</g>
</svg>
